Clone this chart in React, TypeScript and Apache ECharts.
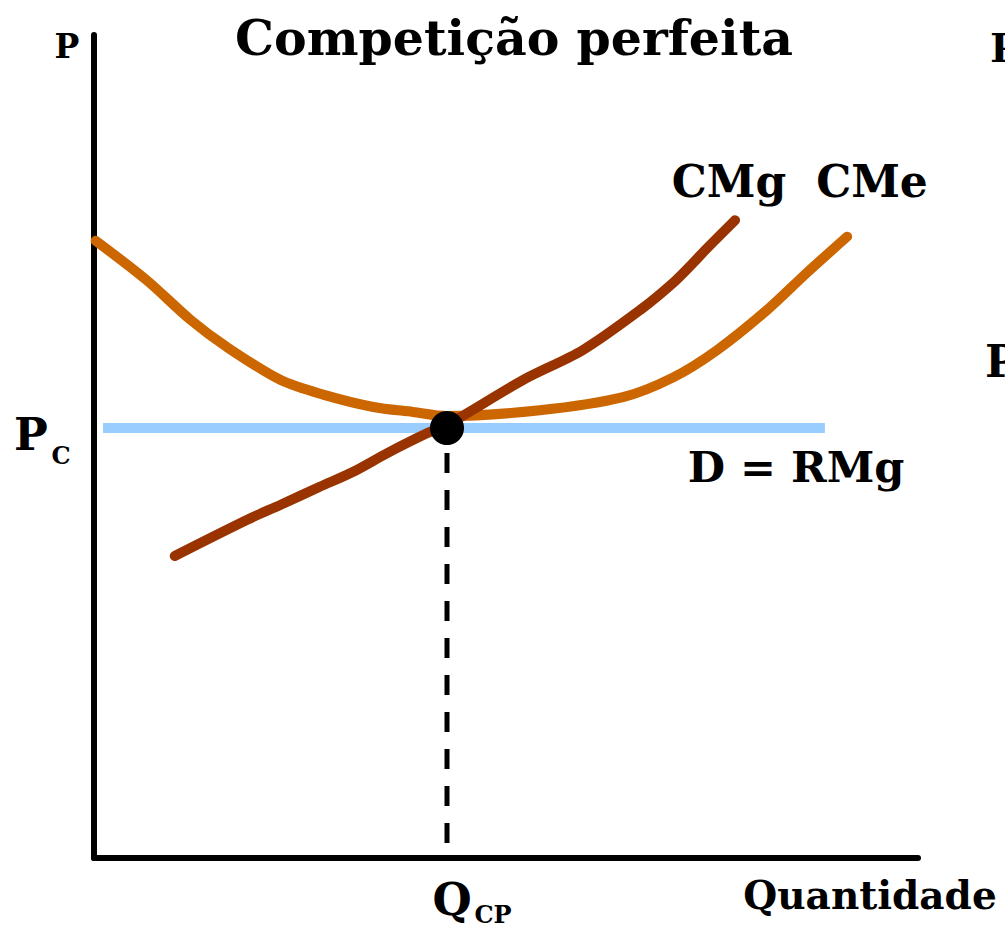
import React, { useEffect, useRef } from "react";
import * as echarts from "echarts";

// Quantity (x) and price (y) in arbitrary units, 0..100 on each axis
const cmeX = [0.2, 6.4, 11.7, 16.1, 22.6, 27.8, 33.9, 38.7, 42.8, 54.1, 64.2, 70.3, 75.6, 81.7, 86.5, 91.4];
const cmeY = [75.0, 70.2, 65.4, 62.1, 58.1, 56.3, 54.8, 54.2, 53.7, 54.4, 56.0, 58.4, 61.7, 66.6, 71.1, 75.5];
const cmgX = [9.8, 18.6, 22.6, 27.4, 31.4, 35.6, 40.4, 42.8, 52.1, 59.3, 66.3, 70.3, 72.7, 74.4, 77.8];
const cmgY = [36.7, 41.1, 42.9, 45.1, 46.9, 49.2, 51.6, 52.6, 58.1, 61.7, 66.6, 69.9, 72.3, 74.1, 77.5];
const priceLevel = 52.25; // P_C
const demandX = [1.1, 88.7];
const qEquilibrium = 42.84; // Q_CP

const title = "Competição perfeita";
const FONT = "'DejaVu Serif', serif";

export default function App() {
  const ref = useRef<HTMLDivElement>(null);
  useEffect(() => {
    if (!ref.current) return;
    const chart = echarts.init(ref.current, null, { renderer: "svg" });
    const pair = (xs: number[], ys: number[]) => xs.map((x, i) => [x, ys[i]]);
    const txt = (text: string, x: number, y: number, size: number, align = "center") => ({
      type: "text",
      x,
      y,
      style: {
        text,
        fill: "#000",
        font: `bold ${size}px ${FONT}`,
        align,
        verticalAlign: "middle",
      },
    });
    chart.setOption({
      animation: false,
      backgroundColor: "#fff",
      grid: { left: 94, right: 87, top: 35, bottom: 71 },
      xAxis: {
        type: "value",
        min: 0,
        max: 100,
        axisLine: { show: true, onZero: false, lineStyle: { color: "#000", width: 6 } },
        axisTick: { show: false },
        axisLabel: { show: false },
        splitLine: { show: false },
      },
      yAxis: {
        type: "value",
        min: 0,
        max: 100,
        axisLine: { show: true, onZero: false, lineStyle: { color: "#000", width: 6 } },
        axisTick: { show: false },
        axisLabel: { show: false },
        splitLine: { show: false },
      },
      series: [
        {
          name: "D = RMg",
          type: "line",
          data: demandX.map((x) => [x, priceLevel]),
          symbol: "none",
          lineStyle: { color: "#99CCFF", width: 10, cap: "butt" },
          z: 2,
        },
        {
          name: "Q",
          type: "line",
          data: [
            [qEquilibrium, priceLevel],
            [qEquilibrium, 0],
          ],
          symbol: "none",
          lineStyle: { color: "#000", width: 5, type: [20, 17], dashOffset: 12 },
          z: 1,
        },
        {
          name: "CMe",
          type: "line",
          data: pair(cmeX, cmeY),
          smooth: 0.3,
          symbol: "none",
          lineStyle: { color: "#CC6600", width: 10, cap: "round", join: "round" },
          z: 3,
        },
        {
          name: "CMg",
          type: "line",
          data: pair(cmgX, cmgY),
          smooth: 0.3,
          symbol: "none",
          lineStyle: { color: "#993300", width: 10, cap: "round", join: "round" },
          z: 4,
        },
        {
          name: "Equilíbrio",
          type: "scatter",
          data: [[qEquilibrium, priceLevel]],
          symbol: "circle",
          symbolSize: 34,
          itemStyle: { color: "#000", opacity: 1 },
          z: 5,
        },
      ],
      graphic: [
        txt(title, 514, 38, 49),
        txt("P", 67, 46, 33),
        txt("P", 31, 434, 45),
        txt("C", 61, 455, 24),
        txt("Q", 452, 899, 45),
        txt("CP", 493, 914, 24),
        txt("Quantidade", 870, 895, 39),
        txt("CMg", 729, 181, 44),
        txt("CMe", 872, 181, 44),
        txt("D = RMg", 796, 467, 43),
        txt("P", 990, 47, 40, "left"),
        txt("P", 985, 361, 44, "left"),
      ],
    });
    return () => chart.dispose();
  }, []);
  return <div ref={ref} style={{ width: 1005, height: 929, position: "absolute", left: 0, top: 0 }} />;
}
